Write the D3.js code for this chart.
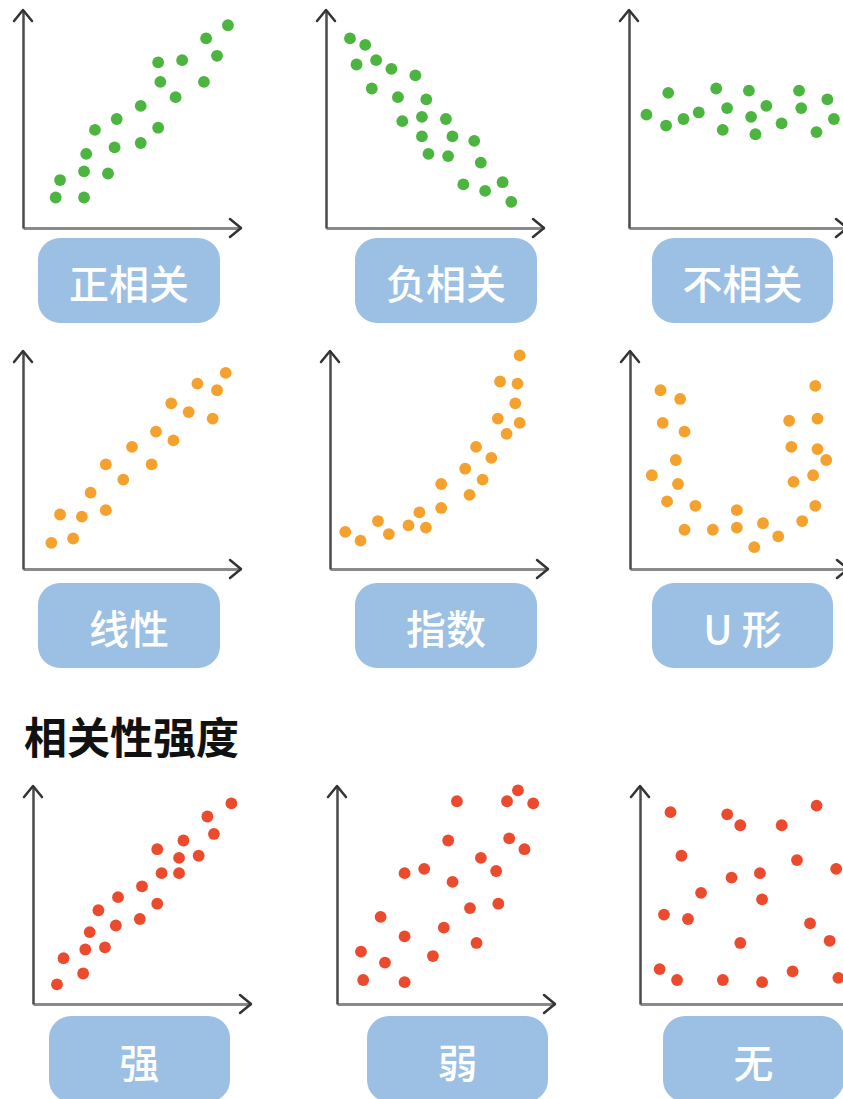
<!DOCTYPE html>
<html>
<head>
<meta charset="utf-8">
<script src="https://cdn.jsdelivr.net/npm/d3@7"></script>
<style>
  html, body { margin: 0; padding: 0; background: #ffffff; }
  svg { display: block; }
  text { font-family: "Noto Sans CJK SC", "Noto Sans", sans-serif; }
</style>
</head>
<body>
<div id="chart"></div>
<script>
// ---------- DATA (values on a 0–100 scale per panel) ----------
const labels = ["正相关", "负相关", "不相关", "线性", "指数", "U 形", "强", "弱", "无"];
const sectionTitle = "相关性强度";

const positiveCorr = [[15,14],[17,22],[28,14],[28,26],[29,34],[39,25],[33,45],[42,37],[43,50],[54,39],
  [54,56],[62,46],[63,67],[62,76],[70,60],[73,77],[83,67],[84,87],[89,79],[94,93]];
const negativeCorr = [[11,87],[18,84],[14,75],[23,77],[30,73],[41,70],[21,64],[33,60],[46,59],[35,49],
  [44,51],[55,50],[44,42],[58,42],[68,40],[47,34],[56,33],[71,30],[63,20],[73,17],[81,21],[85,12]];
const noCorr = [[8,52],[18,62],[17,47],[25,50],[32,53],[40,64],[45,55],[43,45],[55,63],[56,51],
  [58,43],[63,56],[70,48],[78,63],[79,55],[86,44],[91,59],[94,50]];
const linearData = [[13,12],[17,25],[23,14],[27,24],[31,35],[38,27],[38,48],[46,41],[50,56],[59,48],
  [61,63],[69,59],[68,76],[76,72],[80,85],[87,69],[89,82],[93,90]];
const expData = [[7,17],[14,13],[22,22],[27,16],[36,20],[41,26],[44,19],[51,28],[51,39],[64,34],
  [62,46],[70,41],[67,56],[74,51],[77,69],[81,62],[85,76],[87,67],[78,86],[86,85],[87,98]];
const uShapeData = [[14,82],[23,78],[15,67],[25,63],[21,50],[10,43],[22,39],[17,31],[30,29],[25,18],
  [38,18],[49,19],[49,27],[61,21],[57,10],[68,15],[79,22],[85,29],[84,43],[75,40],[90,50],[86,55],
  [74,56],[73,68],[86,69],[85,84]];
const strongData = [[11,9],[14,21],[23,14],[24,25],[26,33],[33,26],[30,43],[38,36],[39,49],[49,39],
  [50,54],[57,46],[59,60],[57,71],[67,60],[67,67],[69,75],[76,68],[80,86],[83,78],[91,92]];
const weakData = [[55,93],[78,93],[83,98],[90,92],[51,75],[79,76],[86,71],[66,67],[31,60],[40,62],
  [53,56],[73,61],[61,44],[74,46],[20,40],[31,31],[49,35],[64,28],[11,24],[22,19],[44,22],[12,11],[31,10]];
const noneData = [[14,88],[40,87],[46,82],[65,82],[81,91],[19,68],[72,66],[90,62],[42,58],[55,60],
  [28,51],[56,48],[11,41],[22,39],[78,37],[46,28],[87,29],[9,16],[17,11],[38,11],[56,10],[70,15],[91,12]];

const seriesList = [positiveCorr, negativeCorr, noCorr, linearData, expData, uShapeData, strongData, weakData, noneData];
const seriesColors = ["#4bb53f", "#4bb53f", "#4bb53f", "#f5a12e", "#f5a12e", "#f5a12e", "#ec4a2d", "#ec4a2d", "#ec4a2d"];

// ---------- LAYOUT ----------
const W = 843, H = 1099;
const AX = 218; // axis length in px
const panels = [
  {ox: 23,  oy: 228,  bx: 38,  by: 238,  bw: 182, bh: 85},
  {ox: 326, oy: 228,  bx: 355, by: 238,  bw: 182, bh: 85},
  {ox: 629, oy: 228,  bx: 652, by: 238,  bw: 181, bh: 85},
  {ox: 23,  oy: 569,  bx: 38,  by: 583,  bw: 182, bh: 85},
  {ox: 330, oy: 569,  bx: 355, by: 583,  bw: 182, bh: 85},
  {ox: 630, oy: 569,  bx: 652, by: 583,  bw: 181, bh: 85},
  {ox: 33,  oy: 1004, bx: 49,  by: 1016, bw: 181, bh: 86},
  {ox: 337, oy: 1004, bx: 367, by: 1016, bw: 181, bh: 86},
  {ox: 640, oy: 1004, bx: 663, by: 1016, bw: 181, bh: 86}
];

const svg = d3.select("#chart").append("svg")
  .attr("width", W).attr("height", H)
  .attr("viewBox", `0 0 ${W} ${H}`);

panels.forEach((p, i) => {
  const g = svg.append("g").attr("class", "panel");
  const x = d3.scaleLinear().domain([0, 100]).range([p.ox, p.ox + AX]);
  const y = d3.scaleLinear().domain([0, 100]).range([p.oy, p.oy - AX]);

  // x axis
  const xa = g.append("g").attr("transform", `translate(0,${p.oy})`)
    .call(d3.axisBottom(x).tickValues([]).tickSizeOuter(0));
  xa.select(".domain").attr("stroke", "#8a8a8a").attr("stroke-width", 3);
  // y axis
  const ya = g.append("g").attr("transform", `translate(${p.ox},0)`)
    .call(d3.axisLeft(y).tickValues([]).tickSizeOuter(0));
  ya.select(".domain").attr("stroke", "#4a4a4a").attr("stroke-width", 2.5);

  // arrow heads
  const xe = x(100), yt = y(100);
  g.append("path")
    .attr("d", `M${xe - 11},${p.oy - 9}L${xe},${p.oy}L${xe - 11},${p.oy + 9}`)
    .attr("fill", "none").attr("stroke", "#333").attr("stroke-width", 2.5)
    .attr("stroke-linecap", "round").attr("stroke-linejoin", "round");
  g.append("path")
    .attr("d", `M${p.ox - 9},${yt + 11}L${p.ox},${yt}L${p.ox + 9},${yt + 11}`)
    .attr("fill", "none").attr("stroke", "#333").attr("stroke-width", 2.5)
    .attr("stroke-linecap", "round").attr("stroke-linejoin", "round");

  // dots
  g.selectAll("circle.dot").data(seriesList[i]).join("circle")
    .attr("class", "dot")
    .attr("cx", d => x(d[0]))
    .attr("cy", d => y(d[1]))
    .attr("r", 5.9)
    .attr("fill", seriesColors[i]);

  // label box
  g.append("rect")
    .attr("x", p.bx).attr("y", p.by)
    .attr("width", p.bw).attr("height", p.bh)
    .attr("rx", 22).attr("ry", 22)
    .attr("fill", "#9bc0e4");
  g.append("text")
    .attr("x", p.bx + p.bw / 2)
    .attr("y", p.by + p.bh / 2 + 1.5)
    .attr("text-anchor", "middle")
    .attr("dominant-baseline", "central")
    .attr("fill", "#ffffff")
    .attr("font-size", 40)
    .attr("font-weight", 500)
    .text(labels[i]);
});

svg.append("text")
  .attr("x", 24).attr("y", 735)
  .attr("dominant-baseline", "central")
  .attr("font-size", 43)
  .attr("font-weight", 700)
  .attr("fill", "#111")
  .text(sectionTitle);
</script>
</body>
</html>
